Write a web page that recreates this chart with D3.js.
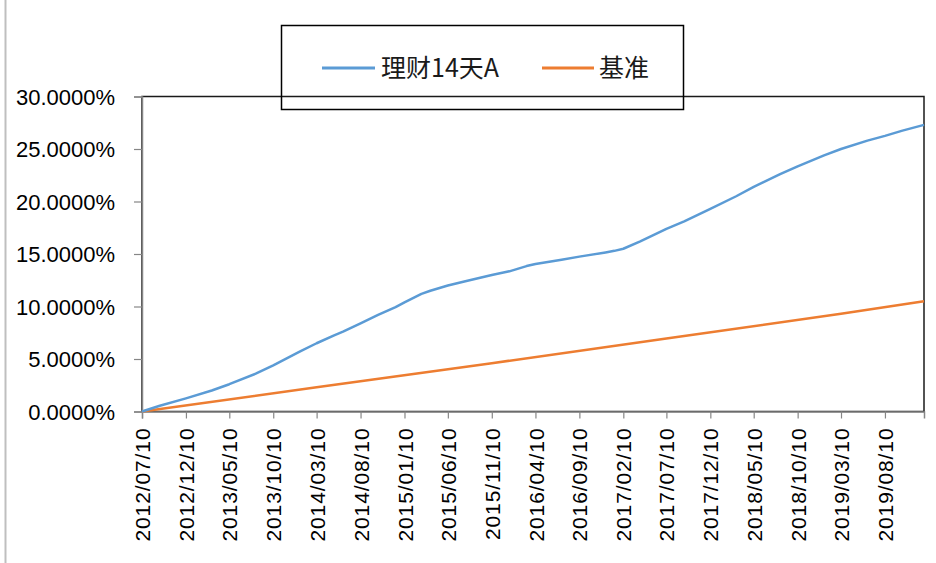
<!DOCTYPE html>
<html>
<head>
<meta charset="utf-8">
<script src="https://cdn.jsdelivr.net/npm/d3@7"></script>
<style>
  html, body { margin: 0; padding: 0; background: #fff; }
  svg { display: block; }
</style>
</head>
<body>
<svg id="chart" width="936" height="563"></svg>
<script>
// ---- data ----
const seriesNames = ["理财14天A", "基准"];
const seriesColors = ["#5B9BD5", "#ED7D31"];

const fundDates = ["2012/07/10","2012/09/10","2012/12/10","2013/03/10","2013/05/10","2013/08/10","2013/10/10",
  "2014/01/10","2014/03/10","2014/05/10","2014/06/10","2014/08/10","2014/10/10","2014/12/10","2015/01/10",
  "2015/03/10","2015/04/10","2015/06/10","2015/08/10","2015/11/10","2016/01/10","2016/03/10","2016/04/10",
  "2016/07/10","2016/09/10","2016/12/10","2017/01/10","2017/02/10","2017/04/10","2017/07/10","2017/09/10",
  "2017/12/10","2018/03/10","2018/05/10","2018/08/10","2018/10/10","2019/01/10","2019/03/10","2019/06/10",
  "2019/08/10","2019/10/10","2019/12/24"];
const fundValues = [0, 0.0055, 0.0125, 0.020, 0.026, 0.036, 0.044,
  0.057, 0.065, 0.0725, 0.076, 0.084, 0.092, 0.0995, 0.104,
  0.112, 0.115, 0.120, 0.124, 0.130, 0.1335, 0.1385, 0.1405,
  0.1445, 0.1475, 0.1515, 0.153, 0.155, 0.162, 0.174, 0.181,
  0.193, 0.205, 0.214, 0.226, 0.2335, 0.244, 0.250, 0.258,
  0.2625, 0.2675, 0.273];

const benchDates = ["2012/07/10","2014/03/10","2015/11/10","2017/07/10","2019/03/10","2019/12/24"];
const benchValues = [0, 0.023, 0.046, 0.0695, 0.093, 0.105];

const xTickLabels = ["2012/07/10","2012/12/10","2013/05/10","2013/10/10","2014/03/10","2014/08/10",
  "2015/01/10","2015/06/10","2015/11/10","2016/04/10","2016/09/10","2017/02/10","2017/07/10",
  "2017/12/10","2018/05/10","2018/10/10","2019/03/10","2019/08/10"];
const yTicks = [0, 0.05, 0.10, 0.15, 0.20, 0.25, 0.30];
const xDomain = ["2012/07/10", "2019/12/24"];

// ---- drawing ----
const FONT = "'Liberation Sans', Arial, sans-serif";
const parse = d3.timeParse("%Y/%m/%d");
const svg = d3.select("#chart");
const plot = { left: 142, right: 924, top: 96.5, bottom: 411.5 };

const x = d3.scaleTime().domain(xDomain.map(parse)).range([plot.left, plot.right]);
const y = d3.scaleLinear().domain([0, 0.30]).range([plot.bottom, plot.top]);

// outer chart border (left edge visible)
svg.append("line").attr("x1", 5.5).attr("x2", 5.5).attr("y1", 0).attr("y2", 563)
  .attr("stroke", "#bfbfbf").attr("stroke-width", 2);

// plot area border
svg.append("rect").attr("x", plot.left).attr("y", plot.top)
  .attr("width", plot.right - plot.left).attr("height", plot.bottom - plot.top)
  .attr("fill", "none").attr("stroke", "#1a1a1a").attr("stroke-width", 1.5);

// y axis
const yAxis = d3.axisLeft(y).tickValues(yTicks).tickFormat(d3.format(".4%")).tickSize(8).tickPadding(19);
const gy = svg.append("g").attr("transform", `translate(${plot.left},0)`).call(yAxis)
  .attr("font-family", FONT).attr("font-size", 22);
gy.select(".domain").attr("stroke", "#868686").attr("stroke-width", 1.5);
gy.selectAll(".tick line").attr("stroke", "#868686").attr("stroke-width", 1.2);
gy.selectAll(".tick text").attr("fill", "#000").attr("dy", "0.36em");

// x axis
const xAxis = d3.axisBottom(x).tickValues(xTickLabels.map(parse)).tickFormat(d3.timeFormat("%Y/%m/%d")).tickSize(7);
const gx = svg.append("g").attr("transform", `translate(0,${plot.bottom})`).call(xAxis)
  .attr("font-family", FONT).attr("font-size", 21);
gx.select(".domain").attr("stroke", "#868686").attr("stroke-width", 1.5);
gx.selectAll(".tick line").attr("stroke", "#868686").attr("stroke-width", 1.2);
gx.selectAll(".tick text")
  .attr("fill", "#000")
  .attr("letter-spacing", "0.9px")
  .attr("text-anchor", "end")
  .attr("transform", "rotate(-90)")
  .attr("x", -16).attr("y", 0).attr("dy", "0.36em");

// lines
const line = d3.line().x(d => x(d[0])).y(d => y(d[1]));
const fundData = fundDates.map((d, i) => [parse(d), fundValues[i]]);
const benchData = benchDates.map((d, i) => [parse(d), benchValues[i]]);

svg.append("path").datum(benchData).attr("d", line).attr("fill", "none")
  .attr("stroke", seriesColors[1]).attr("stroke-width", 2.5).attr("stroke-linejoin", "round");
svg.append("path").datum(fundData).attr("d", line).attr("fill", "none")
  .attr("stroke", seriesColors[0]).attr("stroke-width", 2.5).attr("stroke-linejoin", "round");

// legend
const lg = svg.append("g");
lg.append("rect").attr("x", 281.5).attr("y", 25.5).attr("width", 402).attr("height", 84)
  .attr("fill", "none").attr("stroke", "#000").attr("stroke-width", 1.5);
const legendItems = [
  { name: seriesNames[0], color: seriesColors[0], x1: 322, x2: 375, tx: 381 },
  { name: seriesNames[1], color: seriesColors[1], x1: 542, x2: 594, tx: 599 }
];
legendItems.forEach(it => {
  lg.append("line").attr("x1", it.x1).attr("x2", it.x2).attr("y1", 68).attr("y2", 68)
    .attr("stroke", it.color).attr("stroke-width", 3);
  lg.append("text").attr("x", it.tx).attr("y", 68).attr("dy", "0.36em")
    .attr("font-size", 25).attr("font-family", "'Noto Sans CJK SC', 'Noto Sans', sans-serif")
    .attr("fill", "#1a1a1a").text(it.name);
});
</script>
</body>
</html>
